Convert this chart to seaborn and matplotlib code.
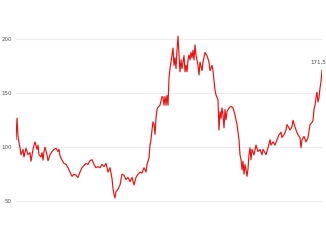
import matplotlib
matplotlib.use("Agg")
import matplotlib.pyplot as plt
import seaborn as sns
import pandas as pd

# time index (trading period position) and price values
t = [16, 17, 18, 20, 21, 23, 24, 26, 28, 30, 31, 33, 34, 35, 37, 38, 39, 41, 42, 43,
     44, 45, 47, 48, 50, 52, 54, 56, 58, 59, 60, 62, 64, 66, 68, 70, 72, 74, 76, 78,
     80, 82, 84, 86, 88, 90, 92, 94, 96, 98, 100, 102, 104, 106, 108, 110, 111, 112, 113, 114,
     115, 116, 118, 120, 121, 122, 124, 126, 128, 130, 132, 134, 136, 138, 140, 142, 144, 146, 147, 149,
     150, 151, 152, 153, 154, 155, 156, 157, 158, 160, 162, 163, 164, 165, 166, 167, 168, 169, 170, 171,
     172, 173, 174, 175, 176, 177, 178, 179, 180, 181, 182, 184, 185, 186, 187, 188, 189, 190, 191, 192,
     193, 194, 195, 196, 198, 199, 200, 202, 203, 205, 207, 209, 210, 212, 213, 215, 216, 218, 219, 220,
     221, 222, 223, 224, 225, 226, 227, 229, 231, 233, 235, 237, 239, 240, 241, 242, 243, 244, 245, 246,
     247, 248, 249, 250, 251, 252, 254, 256, 258, 260, 262, 263, 265, 266, 268, 270, 271, 273, 275, 277,
     279, 281, 282, 284, 286, 287, 289, 290, 292, 293, 296, 298, 300, 301, 302, 304, 306, 308, 310, 312,
     313, 314, 315, 316, 317, 318, 319, 320, 321, 322]
price = [107, 127, 110, 99.5, 93, 98, 91, 99, 93, 95, 87, 98, 102, 105, 98, 102, 93, 91, 95, 88,
         96, 100, 93, 87.5, 93, 96, 98, 99, 96, 98, 92, 88, 85, 84, 81, 77, 73, 75, 74, 72,
         77, 81, 83, 85, 84, 87.5, 88.5, 84, 81, 82, 81, 84, 82, 85, 77, 81, 76, 71, 62, 56,
         53, 59, 61, 65, 70, 75, 74, 70, 72, 68, 72, 65, 72, 75, 77, 76, 81, 77, 84, 90,
         102, 107, 116, 123.5, 121, 112, 127, 135, 137, 139, 147, 146.5, 139, 147, 139, 148, 139, 164, 173, 179,
         185.5, 192, 176, 183, 173, 190, 203, 185.5, 170, 181, 173, 185, 170, 176, 170, 181, 185.5, 181, 188, 183,
         190, 181, 195, 185.5, 176, 167, 179, 171, 179, 188, 185, 179, 171, 176, 171, 153, 148.5, 144, 116, 133,
         127, 136.5, 130, 118, 135, 125.5, 133, 136.5, 138, 136.5, 130, 121, 107, 93, 88.5, 79, 87, 75, 84, 79,
         73, 80, 93, 99.5, 88.5, 98, 93, 102, 96, 98, 93, 98, 95, 93, 99.5, 107, 102, 105, 102, 107,
         111.5, 114, 109, 111.5, 116, 121, 118, 116, 119, 125, 116, 111.5, 109, 99.5, 107, 110, 105, 109, 121, 123,
         125, 135, 139, 146, 151, 142, 146, 155, 161, 171.5]
yticks = [50, 100, 150, 200]
last_label = "171,5"

df = pd.DataFrame({"t": t, "price": price})

sns.set_theme(style="white")
fig = plt.figure(figsize=(3.26, 2.45), dpi=100)
ax = fig.add_axes([16 / 326, 0, 306 / 326, 1])

sns.lineplot(data=df, x="t", y="price", ax=ax, color="#f01010", linewidth=0.85)

ax.set_xlim(min(t), max(t))
ax.set_ylim(9.3, 236.6)
ax.set_yticks(yticks)
ax.set_yticklabels([str(v) for v in yticks])
ax.set_xticks([])
ax.yaxis.grid(True, color="#ececec", linewidth=0.8)
ax.set_axisbelow(True)
ax.tick_params(axis="y", labelsize=4, labelcolor="#555555", length=0, pad=3)
for s in ax.spines.values():
    s.set_visible(False)
ax.set_xlabel("")
ax.set_ylabel("")

ax.annotate(last_label, xy=(t[-1], price[-1]), xytext=(-3, 4), textcoords="offset points",
            ha="center", va="bottom", fontsize=4, color="#444444")

fig.savefig("out.png", dpi=100)
